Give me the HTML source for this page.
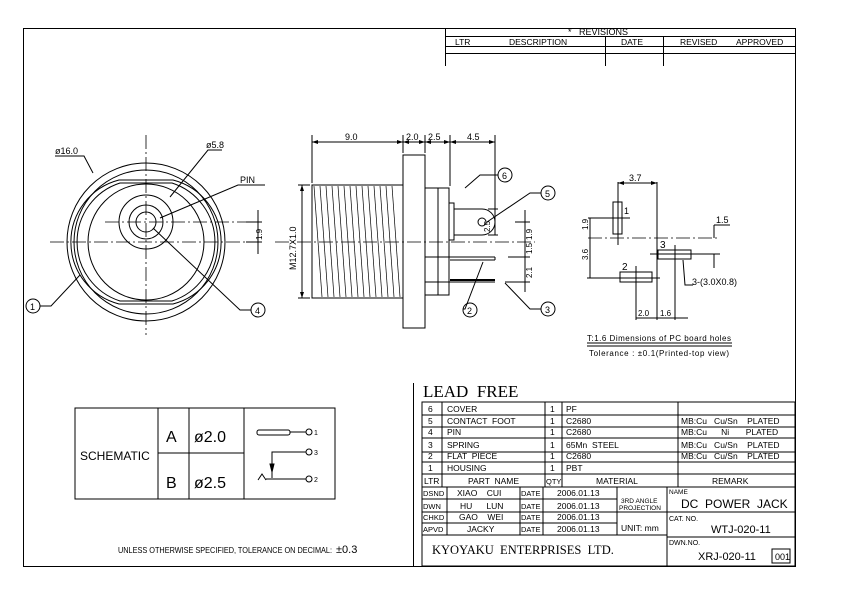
<!DOCTYPE html>
<html><head><meta charset="utf-8"><style>
html,body{margin:0;padding:0;background:#fff}
svg{display:block}
text{font-family:"Liberation Sans",sans-serif;fill:#000;white-space:pre}
text.serif{font-family:"Liberation Serif",serif}
</style></head><body>
<svg width="842" height="595" viewBox="0 0 842 595" xmlns="http://www.w3.org/2000/svg" xml:space="preserve">
<g stroke="#000" fill="none" stroke-width="1">
<rect x="23.5" y="28.5" width="772" height="538"/>
<polyline points="445.5,28 445.5,66"/>
<line x1="445" y1="36.5" x2="795" y2="36.5"/>
<line x1="445" y1="46.5" x2="795" y2="46.5"/>
<line x1="445" y1="53.5" x2="795" y2="53.5"/>
<line x1="605.5" y1="36" x2="605.5" y2="66"/>
<line x1="663.5" y1="36" x2="663.5" y2="66"/>

<circle cx="146" cy="242" r="79"/>
<circle cx="146" cy="242" r="72"/>
<path d="M119,180 L173,180 A64,64 0 0 1 173,304 L119,304 A64,64 0 0 1 119,180 Z"/>
<path d="M120,183 L172,183 A62,62 0 0 1 172,301 L120,301 A62,62 0 0 1 120,183 Z"/>
<circle cx="146" cy="242" r="58"/>
<circle cx="146" cy="222" r="27"/>
<circle cx="146" cy="222" r="17"/>
<circle cx="146" cy="222" r="10"/>
<g stroke-dasharray="14,3,2,3" stroke-width="0.8">
<line x1="146" y1="135" x2="146" y2="335"/>
<line x1="50" y1="242" x2="245" y2="242"/>
<line x1="105" y1="222" x2="252" y2="222"/>
<line x1="275" y1="242" x2="535" y2="242"/>
<line x1="588" y1="238" x2="717" y2="238"/>
</g>
<polyline points="55,156 84,156 93,173"/>
<polyline points="222,150 208,150 170,197"/>
<polyline points="265,185 238,185 160,218"/>
<polyline points="251,310 240,310 153,228"/>
<polyline points="40,306 51,306 80,275"/>
<line x1="246" y1="242" x2="262" y2="242"/><line x1="246" y1="222" x2="262" y2="222"/>
<line x1="258" y1="210" x2="258" y2="254"/>
<circle cx="33" cy="306" r="7"/>
<circle cx="258" cy="310" r="7"/>

<rect x="312" y="185" width="91" height="113"/>
<g stroke-width="0.7">
<line x1="314" y1="186" x2="322" y2="297"/><line x1="320" y1="186" x2="328" y2="297"/><line x1="326" y1="186" x2="334" y2="297"/><line x1="332" y1="186" x2="340" y2="297"/><line x1="338" y1="186" x2="346" y2="297"/><line x1="344" y1="186" x2="352" y2="297"/><line x1="350" y1="186" x2="358" y2="297"/><line x1="356" y1="186" x2="364" y2="297"/><line x1="362" y1="186" x2="370" y2="297"/><line x1="368" y1="186" x2="376" y2="297"/><line x1="374" y1="186" x2="382" y2="297"/><line x1="380" y1="186" x2="388" y2="297"/><line x1="386" y1="186" x2="394" y2="297"/><line x1="392" y1="186" x2="400" y2="297"/>
</g>
<rect x="403" y="155" width="22" height="173"/>
<rect x="425" y="188" width="24" height="107"/>
<line x1="438" y1="188" x2="438" y2="295"/>
<rect x="449" y="203" width="5" height="37"/>
<path d="M454,209 L482,209 A13,13 0 0 1 482,235 L454,235"/>
<circle cx="482" cy="222" r="4"/>
<line x1="425" y1="257" x2="495" y2="257"/><line x1="450" y1="260" x2="495" y2="260"/><line x1="495" y1="257" x2="495" y2="260"/>
<line x1="425" y1="282" x2="495" y2="282"/><line x1="450" y1="280" x2="495" y2="280" stroke-width="2"/>
<line x1="312" y1="135" x2="312" y2="183"/><line x1="403" y1="135" x2="403" y2="153"/><line x1="425" y1="135" x2="425" y2="153"/><line x1="450" y1="135" x2="450" y2="186"/><line x1="495" y1="135" x2="495" y2="215"/>
<line x1="312" y1="142" x2="495" y2="142"/>
<line x1="298" y1="185" x2="310" y2="185"/><line x1="298" y1="298" x2="310" y2="298"/><line x1="302" y1="185" x2="302" y2="298"/>
<line x1="488" y1="209" x2="498" y2="209"/><line x1="488" y1="235" x2="498" y2="235"/><line x1="495" y1="209" x2="495" y2="235"/>
<line x1="515" y1="222" x2="530" y2="222"/><line x1="508" y1="257" x2="530" y2="257"/><line x1="505" y1="282" x2="530" y2="282"/>
<line x1="525" y1="210" x2="525" y2="292"/>
<polyline points="498,175 480,175 465,188"/>
<polyline points="541,193 530,193 487,222"/>
<polyline points="463,309 465,309 483,262"/>
<polyline points="541,309 530,309 505,283"/>
<circle cx="505" cy="175" r="7"/><circle cx="548" cy="193" r="7"/><circle cx="470" cy="310" r="7"/><circle cx="548" cy="309" r="7"/>

<line x1="657" y1="182" x2="657" y2="320"/>
<line x1="618" y1="182" x2="618" y2="245"/>
<line x1="618" y1="183" x2="657" y2="183"/>
<rect x="613" y="202" width="9" height="32"/>
<line x1="588" y1="218" x2="630" y2="218"/>
<line x1="587" y1="278" x2="660" y2="278"/>
<line x1="590" y1="218" x2="590" y2="278"/>
<rect x="620" y="272" width="32" height="10"/>
<line x1="636" y1="266" x2="636" y2="320"/>
<rect x="658" y="250" width="33" height="9"/>
<line x1="650" y1="254" x2="720" y2="254"/>
<line x1="675" y1="245" x2="675" y2="320"/>
<line x1="714" y1="225" x2="714" y2="238"/><line x1="714" y1="254" x2="714" y2="268"/>
<line x1="714" y1="225" x2="730" y2="225"/>
<polyline points="683,260 685,285 693,285"/>
<line x1="636" y1="318" x2="688" y2="318"/>
<line x1="587" y1="343" x2="732" y2="343"/>
<line x1="587" y1="346" x2="732" y2="346"/>

<rect x="75" y="408" width="260" height="91"/>
<line x1="158" y1="408" x2="158" y2="499"/><line x1="189" y1="408" x2="189" y2="499"/><line x1="244" y1="408" x2="244" y2="499"/>
<line x1="158" y1="453" x2="244" y2="453"/>
<rect x="257" y="430" width="33" height="5" rx="2"/>
<line x1="290" y1="432" x2="306" y2="432"/><circle cx="309" cy="432" r="3"/>
<polyline points="272,478 272,452 306,452"/><circle cx="309" cy="452" r="3"/>
<polyline points="258,480 262,474 266,480"/><line x1="266" y1="479" x2="306" y2="479"/><circle cx="309" cy="479" r="3"/>
<path d="M270,464 L274,464 L272,472 Z" fill="#000"/>

<line x1="413.5" y1="383" x2="413.5" y2="566"/>
<rect x="422" y="402" width="373" height="164"/>
<line x1="422" y1="415" x2="795" y2="415"/><line x1="422" y1="427" x2="795" y2="427"/><line x1="422" y1="438" x2="795" y2="438"/><line x1="422" y1="452" x2="795" y2="452"/><line x1="422" y1="462" x2="795" y2="462"/><line x1="422" y1="474" x2="795" y2="474"/><line x1="422" y1="487" x2="795" y2="487"/>
<line x1="422" y1="499" x2="617" y2="499"/><line x1="422" y1="512" x2="617" y2="512"/><line x1="422" y1="523" x2="617" y2="523"/><line x1="422" y1="535" x2="667" y2="535"/>
<line x1="617" y1="512" x2="795" y2="512"/><line x1="667" y1="537" x2="795" y2="537"/>
<line x1="442" y1="402" x2="442" y2="487"/><line x1="545" y1="402" x2="545" y2="487"/><line x1="562" y1="402" x2="562" y2="487"/><line x1="678" y1="402" x2="678" y2="487"/>
<line x1="447" y1="487" x2="447" y2="535"/><line x1="520" y1="487" x2="520" y2="535"/><line x1="543" y1="487" x2="543" y2="535"/><line x1="617" y1="487" x2="617" y2="535"/><line x1="667" y1="487" x2="667" y2="566"/>
<rect x="772" y="549" width="18" height="14"/>
</g>
<g fill="#000" stroke="none">
<path d="M312,142 l6,-2 v4z M403,142 l-6,-2 v4z M403,142 l6,-2 v4z M425,142 l-6,-2 v4z M425,142 l6,-2 v4z M450,142 l-6,-2 v4z M450,142 l6,-2 v4z M495,142 l-6,-2 v4z"/>
<path d="M302,185 l-2,6 h4z M302,298 l-2,-6 h4z M618,183 l6,-2 v4z M657,183 l-6,-2 v4z"/>
</g>
<g font-size="10">
<text x="568" y="35" font-size="9">*   REVISIONS</text>
<text x="455" y="45" font-size="8.5">LTR</text><text x="509" y="45" font-size="8.5">DESCRIPTION</text><text x="621" y="45" font-size="8.5">DATE</text><text x="680" y="45" font-size="8.5">REVISED</text><text x="736" y="45" font-size="8.5">APPROVED</text>
<text x="55" y="154" font-size="9">ø16.0</text>
<text x="206" y="148" font-size="9">ø5.8</text>
<text x="240" y="183" font-size="9">PIN</text>
<text x="30" y="310" font-size="9">1</text><text x="255" y="314" font-size="9">4</text>
<text x="467" y="314" font-size="9">2</text><text x="545" y="313" font-size="9">3</text><text x="545" y="197" font-size="9">5</text><text x="502" y="179" font-size="9">6</text>
<text x="345" y="140" font-size="9">9.0</text><text x="406" y="140" font-size="9">2.0</text><text x="428" y="140" font-size="9">2.5</text><text x="467" y="140" font-size="9">4.5</text>
<text x="296" y="270" font-size="9" transform="rotate(-90 296 270)">M12.7X1.0</text>
<text x="262" y="240" font-size="8" transform="rotate(-90 262 240)">1.9</text>
<text x="490" y="232" font-size="8" transform="rotate(-90 490 232)">2.5</text>
<text x="532" y="240" font-size="8" transform="rotate(-90 532 240)">1.9</text>
<text x="532" y="254" font-size="8" transform="rotate(-90 532 254)">1.5</text>
<text x="532" y="278" font-size="8" transform="rotate(-90 532 278)">2.1</text>
<text x="629" y="181" font-size="9">3.7</text>
<text x="624" y="214" font-size="9">1</text><text x="622" y="270" font-size="10">2</text><text x="660" y="248" font-size="10">3</text>
<text x="716" y="223" font-size="9">1.5</text>
<text x="692" y="285" font-size="9">3-(3.0X0.8)</text>
<text x="588" y="230" font-size="8" transform="rotate(-90 588 230)">1.9</text>
<text x="588" y="260" font-size="8" transform="rotate(-90 588 260)">3.6</text>
<text x="638" y="316" font-size="8">2.0</text><text x="660" y="316" font-size="8">1.6</text>
<text x="587" y="341" font-size="8" textLength="144">T:1.6 Dimensions of PC board holes</text>
<text x="589" y="356" font-size="8" textLength="140">Tolerance : ±0.1(Printed-top view)</text>
<text x="423" y="397" class="serif" font-size="17">LEAD  FREE</text>
<text x="80" y="460" font-size="12">SCHEMATIC</text>
<text x="166" y="442" font-size="16">A</text><text x="194" y="442" font-size="16">ø2.0</text>
<text x="166" y="488" font-size="16">B</text><text x="194" y="488" font-size="16">ø2.5</text>
<text x="314" y="435" font-size="7">1</text><text x="314" y="455" font-size="7">3</text><text x="314" y="482" font-size="7">2</text>
<text x="118" y="553" font-size="8.5" textLength="214" lengthAdjust="spacingAndGlyphs">UNLESS OTHERWISE SPECIFIED, TOLERANCE ON DECIMAL:</text><text x="336" y="553" font-size="11">±0.3</text>
</g>
<g font-size="8.5">
<text x="428" y="412">6</text><text x="447" y="412">COVER</text><text x="550" y="412">1</text><text x="566" y="412">PF</text>
<text x="428" y="424">5</text><text x="447" y="424">CONTACT  FOOT</text><text x="550" y="424">1</text><text x="566" y="424">C2680</text>
<text x="428" y="435">4</text><text x="447" y="435">PIN</text><text x="550" y="435">1</text><text x="566" y="435">C2680</text>
<text x="428" y="448">3</text><text x="447" y="448">SPRING</text><text x="550" y="448">1</text><text x="566" y="448">65Mn  STEEL</text>
<text x="428" y="459">2</text><text x="447" y="459">FLAT  PIECE</text><text x="550" y="459">1</text><text x="566" y="459">C2680</text>
<text x="428" y="471">1</text><text x="447" y="471">HOUSING</text><text x="550" y="471">1</text><text x="566" y="471">PBT</text>
<text x="681" y="424">MB:Cu   Cu/Sn    PLATED</text>
<text x="681" y="435">MB:Cu      Ni       PLATED</text>
<text x="681" y="448">MB:Cu   Cu/Sn    PLATED</text>
<text x="681" y="459">MB:Cu   Cu/Sn    PLATED</text>
<text x="424" y="484">LTR</text><text x="468" y="484">PART  NAME</text><text x="546" y="484" font-size="7.5">QTY</text><text x="596" y="484">MATERIAL</text><text x="712" y="484">REMARK</text>
<text x="423" y="496" font-size="7.5">DSND</text><text x="457" y="496">XIAO    CUI</text><text x="521" y="496" font-size="7.5">DATE</text><text x="557" y="496">2006.01.13</text>
<text x="423" y="509" font-size="7.5">DWN</text><text x="460" y="509">HU      LUN</text><text x="521" y="509" font-size="7.5">DATE</text><text x="557" y="509">2006.01.13</text>
<text x="423" y="520" font-size="7.5">CHKD</text><text x="459" y="520">GAO    WEI</text><text x="521" y="520" font-size="7.5">DATE</text><text x="557" y="520">2006.01.13</text>
<text x="423" y="532" font-size="7.5">APVD</text><text x="467" y="532">JACKY</text><text x="521" y="532" font-size="7.5">DATE</text><text x="557" y="532">2006.01.13</text>
<text x="621" y="503" font-size="6.5">3RD ANGLE</text><text x="619" y="510" font-size="6.5">PROJECTION</text>
<text x="621" y="531">UNIT: mm</text>
<text x="669" y="494" font-size="6.5">NAME</text><text x="681" y="508" font-size="12">DC  POWER  JACK</text>
<text x="669" y="521" font-size="7">CAT. NO.</text><text x="711" y="533" font-size="11">WTJ-020-11</text>
<text x="669" y="545" font-size="7">DWN.NO.</text><text x="698" y="560" font-size="11">XRJ-020-11</text><text x="775" y="560" font-size="9">001</text>
<text x="432" y="554" class="serif" font-size="12.5">KYOYAKU  ENTERPRISES  LTD.</text>
</g>
</svg>
</body></html>
